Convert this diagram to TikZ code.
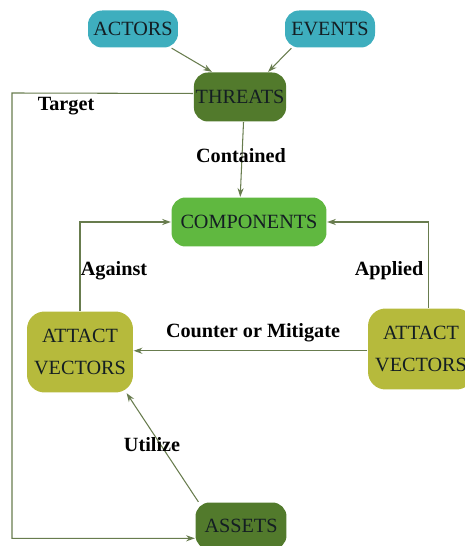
\documentclass[tikz,border=0pt]{standalone}
\usepackage{fontspec}
\setmainfont{Liberation Serif}
\usetikzlibrary{arrows.meta,positioning}
\definecolor{tealbox}{RGB}{62,174,190}
\definecolor{darkgreen}{RGB}{82,122,44}
\definecolor{brightgreen}{RGB}{96,184,64}
\definecolor{olivebox}{RGB}{182,186,60}
\definecolor{linkcol}{RGB}{104,124,78}
\definecolor{boxtext}{RGB}{20,30,35}
\tikzset{every picture/.style={line width=0.75pt}}
\tikzset{
  box/.style={rounded corners=8pt,inner sep=1pt,text=boxtext,font=\fontsize{11.5}{13}\selectfont},
  srcbox/.style={box,fill=tealbox,minimum width=1.8cm,minimum height=0.74cm},
  darkbox/.style={box,fill=darkgreen,minimum width=1.82cm},
  vecbox/.style={box,fill=olivebox,minimum width=2.12cm,minimum height=1.62cm,align=center,rounded corners=10pt},
  link/.style={linkcol,line width=0.6pt,-{Stealth[length=5pt,width=3.5pt]}},
  lbl/.style={font=\fontsize{11.5}{13}\selectfont\bfseries,text=black}
}

\begin{document}
\begin{tikzpicture}[x=0.02cm,y=-0.02cm]
    \useasboundingbox (0,0) rectangle (465,546);
    % top row
    \node[srcbox] (actors) at (133,29) {ACTORS};
    \node[srcbox] (events) at (330,29) {EVENTS};
    \node[darkbox,minimum height=0.98cm] (threats) at (240,97) {THREATS};
    \node[box,fill=brightgreen,minimum width=3.1cm,minimum height=0.98cm] (comp) at (249,222) {COMPONENTS};
    % vectors
    \node[vecbox] (leftvec) at (80,352) {ATTACT\\[5pt]VECTORS};
    \node[vecbox] (rightvec) at (421,349) {ATTACT\\[5pt]VECTORS};
    \node[darkbox,minimum height=0.94cm] (assets) at (241,526) {ASSETS};
    \coordinate (corner) at (12,93);

    \draw[link] (actors.south east) ++(-4pt,0) -- ([xshift=-16pt]threats.north);
    \draw[link] (events.south west) ++(4pt,0) -- ([xshift=16pt]threats.north);
    \draw[link] ([xshift=2pt]threats.south) -- ([xshift=-5pt]comp.north);
    \draw[link] ([yshift=2pt]threats.west) -- (corner) |- ([yshift=-7pt]assets.west);
    \draw[link] (leftvec.north) |- (comp.west);
    \draw[link] ([xshift=4pt]rightvec.north) |- (comp.east);
    \draw[link] ([yshift=-1pt]rightvec.west) -- ([yshift=-1pt]rightvec.west -| leftvec.east);
    \draw[link] ([xshift=2pt]assets.north west) -- ([xshift=-4pt]leftvec.south east);

    % labels
    \node[lbl] (target) at (66,106) {Target};
    \node[lbl] (contained) at (241,156) {Contained};
    \node[lbl] (against) at (114,271) {Against};
    \node[lbl] (applied) at (389,271) {Applied};
    \node[lbl] (counter) at (253,333) {Counter or Mitigate};
    \node[lbl] (utilize) at (152,445) {Utilize};
\end{tikzpicture}
\end{document}
